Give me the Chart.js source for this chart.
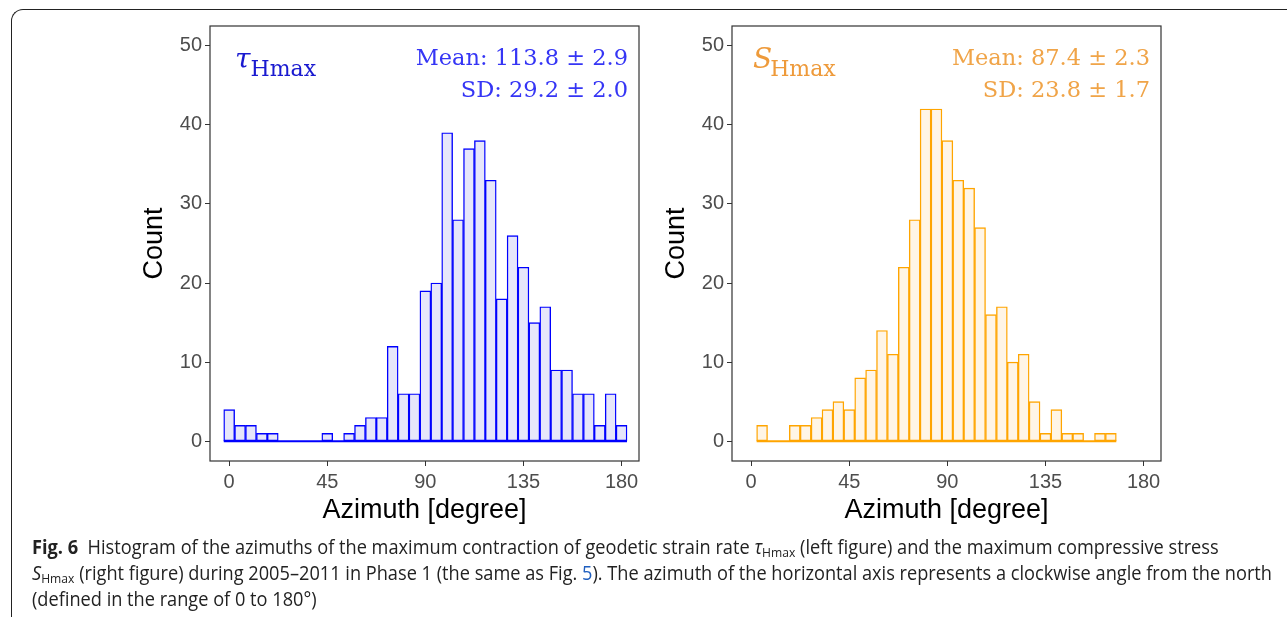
<!DOCTYPE html>
<html>
<head>
<meta charset="utf-8">
<script src="https://cdn.jsdelivr.net/npm/chart.js@4.4.1/dist/chart.umd.min.js"></script>
<style>
  body { margin: 0; background: #fff; width: 1287px; height: 617px; overflow: hidden; position: relative; }
  .frame { position: absolute; left: 11px; top: 9px; width: 1300px; height: 640px;
           border-top: 1.5px solid #222; border-left: 1.5px solid #222; border-top-left-radius: 12px; }
  .box { position: absolute; top: 0; width: 520px; height: 540px; }
  .cap { position: absolute; left: 32px; white-space: nowrap; font-family: "Liberation Sans Narrow", "Open Sans", sans-serif;
         font-size: 19.5px; color: #222; transform-origin: 0 0; }
  .cap b { font-weight: bold; }
  .cap sub { font-size: 13px; vertical-align: -3px; }
  .cap .lnk { color: #1f5fbf; }
</style>
</head>
<body>
<div class="frame"></div>
<div class="box" style="left:130px"><canvas id="leftChart"></canvas></div>
<div class="box" style="left:652px"><canvas id="rightChart"></canvas></div>

<div class="cap" id="cap1" style="top:533px"><b>Fig. 6</b>&nbsp; Histogram of the azimuths of the maximum contraction of geodetic strain rate <i>τ</i><sub>Hmax</sub> (left figure) and the maximum compressive stress</div>
<div class="cap" id="cap2" style="top:559px"><i>S</i><sub>Hmax</sub> (right figure) during 2005–2011 in Phase 1 (the same as Fig. <span class="lnk">5</span>). The azimuth of the horizontal axis represents a clockwise angle from the north</div>
<div class="cap" id="cap3" style="top:585px">(defined in the range of 0 to 180°)</div>

<script>
// bin centres (degrees) and counts
const tauBins   = [0, 5, 10, 15, 20, 25, 30, 35, 40, 45, 50, 55, 60, 65, 70, 75, 80, 85, 90,
                   95, 100, 105, 110, 115, 120, 125, 130, 135, 140, 145, 150, 155, 160, 165, 170, 175, 180];
const tauCounts = [4, 2, 2, 1, 1, 0, 0, 0, 0, 1, 0, 1, 2, 3, 3, 12, 6, 6, 19,
                   20, 39, 28, 37, 38, 33, 18, 26, 22, 15, 17, 9, 9, 6, 6, 2, 6, 2];

const sBins   = [5, 10, 15, 20, 25, 30, 35, 40, 45, 50, 55, 60, 65, 70, 75, 80, 85,
                 90, 95, 100, 105, 110, 115, 120, 125, 130, 135, 140, 145, 150, 155, 160, 165];
const sCounts = [2, 0, 0, 2, 2, 3, 4, 5, 4, 8, 9, 14, 11, 22, 28, 42, 42,
                 38, 33, 32, 27, 16, 17, 10, 11, 5, 1, 4, 1, 1, 0, 1, 1];

const xTicks = [0, 45, 90, 135, 180];
const yTicks = [0, 10, 20, 30, 40, 50];

const tauStats = ['Mean: 113.8 ± 2.9', 'SD: 29.2 ± 2.0'];
const sStats   = ['Mean: 87.4 ± 2.3', 'SD: 23.8 ± 1.7'];

const panelText = {
  id: 'panelText',
  afterDraw(chart, args, opts) {
    const ctx = chart.ctx, a = chart.chartArea;
    ctx.save();
    // panel border
    ctx.strokeStyle = '#333';
    ctx.lineWidth = 1.2;
    ctx.strokeRect(a.left, a.top, a.right - a.left, a.bottom - a.top);
    // symbol + subscript
    ctx.fillStyle = opts.symColor;
    ctx.textBaseline = 'alphabetic';
    ctx.textAlign = 'left';
    ctx.font = 'italic 28px "DejaVu Serif"';
    const x0 = a.left + opts.symInset;
    ctx.fillText(opts.symbol, x0, 68);
    const w = ctx.measureText(opts.symbol).width;
    ctx.font = '22px "DejaVu Serif"';
    ctx.fillText('Hmax', x0 + w + opts.subGap, 76);
    // stats
    ctx.fillStyle = opts.statColor;
    ctx.textAlign = 'right';
    ctx.font = '22.5px "DejaVu Serif"';
    ctx.fillText(opts.stats[0], a.right - 11, 65);
    ctx.fillText(opts.stats[1], a.right - 11, 97);
    ctx.restore();
  }
};

function histChart(id, bins, counts, stroke, fill, text) {
  const first = bins[0] - 2.5, last = bins[bins.length - 1] + 2.5;
  return new Chart(id, {
    data: {
      datasets: [{
        type: 'bar',
        data: bins.map((b, i) => ({ x: b, y: counts[i] })),
        backgroundColor: fill,
        borderColor: stroke,
        borderWidth: 1.4,
        borderSkipped: false,
        barPercentage: 1,
        categoryPercentage: 1
      }, {
        type: 'line',
        data: [{ x: first, y: 0 }, { x: last, y: 0 }],
        borderColor: stroke,
        borderWidth: 2,
        pointRadius: 0
      }]
    },
    options: {
      responsive: true,
      maintainAspectRatio: false,
      animation: false,
      layout: { padding: { left: 0, top: 26, right: 11, bottom: 9 } },
      plugins: { legend: { display: false }, tooltip: { enabled: false }, panelText: text },
      scales: {
        x: {
          type: 'linear', min: -8.8, max: 188, offset: false,
          afterBuildTicks: s => { s.ticks = xTicks.map(v => ({ value: v })); },
          afterFit: s => { s.height = 70; },
          grid: { display: true, drawOnChartArea: false, offset: false, tickLength: 5, color: '#333' },
          border: { display: false },
          ticks: { color: '#4D4D4D', font: { family: 'Liberation Sans', size: 20 }, padding: 4, maxRotation: 0 },
          title: { display: true, text: 'Azimuth [degree]', color: '#000',
                   font: { family: 'Liberation Sans', size: 27 }, padding: { top: 0, bottom: 4 } }
        },
        y: {
          min: -2.5, max: 52.5,
          afterBuildTicks: s => { s.ticks = yTicks.map(v => ({ value: v })); },
          afterFit: s => { s.width = 80; },
          grid: { display: true, drawOnChartArea: false, tickLength: 5, color: '#333' },
          border: { display: false },
          ticks: { color: '#4D4D4D', font: { family: 'Liberation Sans', size: 20 }, padding: 3 },
          title: { display: true, text: 'Count', color: '#000',
                   font: { family: 'Liberation Sans', size: 27 }, padding: { top: 8.8, bottom: 0 } }
        }
      }
    },
    plugins: [panelText]
  });
}

histChart('leftChart', tauBins, tauCounts, '#0000FF', '#E6E6FA',
  { symbol: 'τ', symInset: 25, subGap: 0, symColor: '#1a1ad0', statColor: '#3535F5', stats: tauStats });
histChart('rightChart', sBins, sCounts, '#FFA500', '#FFF5E6',
  { symbol: 'S', symInset: 21, subGap: -2, symColor: '#EE9A3A', statColor: '#F0A448', stats: sStats });

// squeeze caption lines to the figure's condensed width
const capEl = document.getElementById('cap2');
const k = 1240 / capEl.getBoundingClientRect().width;
['cap1', 'cap2', 'cap3'].forEach(id => {
  document.getElementById(id).style.transform = 'scaleX(' + k + ')';
});
</script>
</body>
</html>
